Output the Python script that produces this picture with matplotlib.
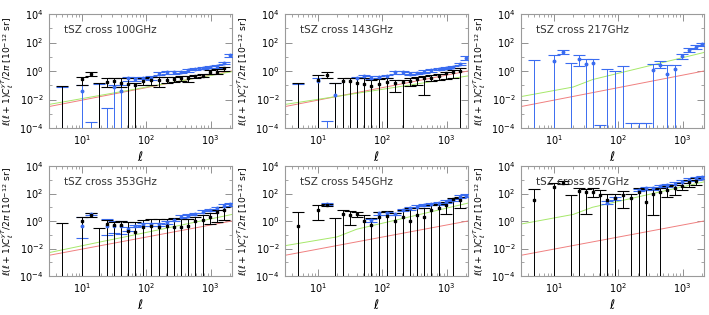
import numpy as np
import matplotlib
matplotlib.use('Agg')
import matplotlib.pyplot as plt
from matplotlib.ticker import FixedLocator, NullFormatter, LogLocator

N = None

# multipole bins
ell = [5, 10, 14, 18.5, 24.5, 31.5, 40, 53, 68, 89, 120, 158, 210, 270, 345, 450, 580, 750, 980, 1270, 1630, 2000]

# model curves
red_ell = [3.1, 2150]
red_val = [3.2e-3, 1.0]
green_ell = [3.1, 20, 40, 2150]
grn_100 = [4.5e-3, 0.02, 0.035, 0.9]
grn_143 = [4.5e-3, 0.0166, 0.027, 0.45]
grn_217 = [0.016, 0.075, 0.25, 20]
grn_353 = [5e-3, 0.031, 0.06, 3.0]
grn_545 = [0.016, 0.07, 0.25, 20]
grn_857 = [0.6, 3.0, 10, 700]

# black points (value, lower, upper); negative lower = bar to the bottom
blk_100 = [N, 0.26, 0.65, N, 0.18, 0.2, 0.15, 0.12, 0.1, 0.2, 0.23, 0.22, 0.22, 0.26, 0.34, 0.3, 0.42, 0.47, 0.9, 0.9, 1.5, N]
blk_100_lo = [-1, 0.1, 0.42, -1, 0.07, 0.075, 0.07, -1, -1, 0.1, 0.1, 0.07, 0.14, 0.16, 0.2, 0.18, 0.3, 0.35, 0.65, 0.65, 1.0, N]
blk_100_hi = [0.09, 0.4, 0.9, 0.14, 0.3, 0.3, 0.3, 0.3, 0.15, 0.34, 0.37, 0.35, 0.35, 0.38, 0.44, 0.42, 0.55, 0.6, 1.1, 1.3, 2.0, N]
blu_100 = [N, 0.04, N, N, N, 0.07, 0.04, 0.3, 0.28, 0.34, 0.34, 0.65, 0.8, 0.8, 0.9, 1.1, 1.45, 1.7, 1.9, 2.1, 3.7, 13]
blu_100_lo = [-1, -1, -1, -1, -1, -1, -1, 0.2, 0.2, 0.28, 0.25, 0.5, 0.65, 0.65, 0.75, 0.9, 1.2, 1.4, 1.6, 1.7, 3.0, 10]
blu_100_hi = [0.08, 0.1, 2.7e-4, 0.12, 2.6e-3, 0.1, 0.1, 0.4, 0.35, 0.4, 0.45, 0.8, 0.95, 0.95, 1.05, 1.3, 1.7, 2.0, 2.3, 2.6, 4.5, 16]

blk_143 = [N, 0.25, 0.52, N, 0.2, 0.2, 0.15, 0.13, 0.09, 0.13, 0.18, 0.15, 0.18, 0.2, 0.26, 0.3, 0.34, 0.42, 0.7, 0.9, 1.0, N]
blk_143_lo = [-1, -1, 0.34, -1, -1, -1, -1, -1, -1, -1, -1, 0.033, -1, 0.09, 0.1, 0.02, 0.2, 0.25, 0.27, 0.3, -1, N]
blk_143_hi = [0.15, 0.5, 0.9, 0.15, 0.34, 0.34, 0.34, 0.3, 0.25, 0.28, 0.3, 0.25, 0.25, 0.34, 0.4, 0.42, 0.55, 0.65, 0.9, 1.1, 1.5, N]
blu_143 = [N, 0.2, N, 0.02, N, N, 0.3, 0.42, 0.34, 0.38, 0.42, 0.8, 0.8, 0.65, 0.72, 0.9, 1.1, 1.4, 1.6, 1.9, 3.0, 8.6]
blu_143_lo = [-1, -1, -1, -1, N, N, -1, 0.32, 0.27, 0.3, 0.33, 0.65, 0.65, 0.52, 0.58, 0.75, 0.9, 1.15, 1.3, 1.6, 2.5, 6]
blu_143_hi = [0.13, 0.3, 3e-4, 0.15, N, N, 0.4, 0.52, 0.42, 0.46, 0.52, 0.95, 0.95, 0.8, 0.88, 1.1, 1.3, 1.7, 2.0, 2.3, 3.6, 11]

blk_217 = [N] * 22
blk_217_lo = [N] * 22
blk_217_hi = [N] * 22
blu_217 = [N, 5, 22, N, 7.4, 2.9, 3.5, N, N, N, N, N, N, N, 1.2, 2.6, 0.65, 1.3, 11.4, 30, 49, 75]
blu_217_lo = [-1, -1, 15, -1, 2.2, -1, -1, -1, -1, -1, -1, -1, -1, -1, -1, 1.7, -1, -1, 7.4, 23, 37, 55]
blu_217_hi = [6.3, 13.4, 30, 3.5, 12.7, 6.6, 6.6, 1.5e-4, 1.3, 1.0, 2.1, 2.4e-4, 2.4e-4, 2.4e-4, 2.9, 5, 2.6, 2.6, 16.6, 40, 64, 100]

blk_353 = [N, 1.05, 2.7, N, 0.57, 0.5, 0.5, 0.19, 0.15, 0.39, 0.46, 0.35, 0.43, 0.35, 0.39, 0.43, 1.0, 1.2, 2.1, 4.3, 6.3, N]
blk_353_lo = [-1, -1, 2.1, -1, -1, -1, -1, -1, -1, -1, -1, -1, -1, -1, -1, -1, -1, -1, 0.6, 0.9, 1.2, N]
blk_353_hi = [0.75, 2.1, 3.6, 0.33, 1.2, 0.9, 1.0, 0.8, 0.8, 1.1, 1.3, 1.3, 1.5, 1.6, 1.4, 1.5, 2.1, 2.8, 3.6, 6.5, 11, N]
blu_353 = [N, 0.4, 3.2, N, 0.4, 0.4, 0.4, 0.26, 0.43, 0.57, 0.57, 0.57, 0.8, 1.2, 2.1, 2.4, 3.2, 4.8, 6.3, 8.4, 13, 17]
blu_353_lo = [N, 0.06, 2.6, N, 0.1, 0.13, 0.12, 0.2, 0.34, 0.45, 0.45, 0.45, 0.65, 0.95, 1.7, 1.9, 2.6, 3.8, 5, 6.6, 10, 13]
blu_353_hi = [N, 2.0, 3.9, N, 1.3, 1.0, 1.0, 0.34, 0.54, 0.72, 0.72, 0.72, 1.0, 1.5, 2.6, 3, 4, 6, 8, 10.5, 16, 22]

blk_545 = [0.46, 6.3, 14.6, N, 3.0, 2.7, 3.0, 1.0, 0.5, 2.1, 2.4, 1.05, 2.1, 1.05, 2.7, 1.8, 6.3, 8.4, 14.6, 40, 34, N]
blk_545_lo = [-1, 1.2, 12, -1, -1, 0.5, 1.8, -1, -1, -1, -1, -1, -1, -1, -1, -1, -1, -1, 3, -1, 8.4, N]
blk_545_hi = [4.8, 14.6, 17, 1.7, 6.3, 5.6, 4.2, 2.7, 1.7, 4.2, 5, 3.6, 6.3, 8.4, 8.4, 9.5, 14.6, 16, 25, 50, 60, N]
blu_545 = [N, N, 17, N, N, N, N, N, 1.2, 3.6, 3.6, 3.2, 6.3, 8.4, 11, 14.6, 17, 19, 25, 34, 59, 70]
blu_545_lo = [N, N, 14, N, N, N, N, N, 0.9, 2.9, 2.9, 2.6, 5, 6.8, 9, 12, 14, 15.5, 20, 28, 48, 55]
blu_545_hi = [N, N, 20, N, N, N, N, N, 1.5, 4.5, 4.5, 4, 7.8, 10.5, 13.5, 18, 21, 23, 31, 42, 72, 90]

blk_857 = [34, 316, 610, N, 150, 120, 135, 78, 34, 44, 78, 44, 135, 25, 87, 120, 180, 240, 370, 650, 800, N]
blk_857_lo = [-1, -1, 460, -1, -1, 3, 60, -1, -1, -1, 8.4, -1, -1, -1, 2.7, -1, 60, 75, 180, 300, 400, N]
blk_857_hi = [214, 560, 800, 78, 240, 210, 240, 190, 100, 100, 140, 100, 240, 210, 210, 240, 330, 420, 560, 1000, 1300, N]
blu_857 = [N, N, N, N, N, N, N, N, 22, 45, N, N, 180, 240, 240, 330, 400, 530, 730, 1000, 1300, 1500]
blu_857_lo = [N, N, N, N, N, N, N, N, 17, 35, N, N, 140, 190, 190, 260, 320, 420, 580, 800, 1000, 1200]
blu_857_hi = [N, N, N, N, N, N, N, N, 28, 56, N, N, 230, 300, 300, 410, 500, 660, 920, 1250, 1600, 1900]

freqs = ['100GHz', '143GHz', '217GHz', '353GHz', '545GHz', '857GHz']
greens = [grn_100, grn_143, grn_217, grn_353, grn_545, grn_857]
blacks = [(blk_100, blk_100_lo, blk_100_hi), (blk_143, blk_143_lo, blk_143_hi),
          (blk_217, blk_217_lo, blk_217_hi), (blk_353, blk_353_lo, blk_353_hi),
          (blk_545, blk_545_lo, blk_545_hi), (blk_857, blk_857_lo, blk_857_hi)]
blues = [(blu_100, blu_100_lo, blu_100_hi), (blu_143, blu_143_lo, blu_143_hi),
         (blu_217, blu_217_lo, blu_217_hi), (blu_353, blu_353_lo, blu_353_hi),
         (blu_545, blu_545_lo, blu_545_hi), (blu_857, blu_857_lo, blu_857_hi)]

BLUE = '#3a6cf0'


def draw_points(ax, val, lo, hi, color, marker):
    x = np.array(ell, dtype=float)
    v = np.array(val, dtype=float)
    l = np.array(lo, dtype=float)
    h = np.array(hi, dtype=float)
    ok = ~np.isnan(h)
    ax.vlines(x[ok], l[ok], h[ok], color=color, lw=0.7, zorder=3)
    ax.plot(x, h, ls='none', marker='_', ms=8, mew=0.8, color=color, zorder=3)
    lcap = np.where(l > 0, l, np.nan)
    ax.plot(x, lcap, ls='none', marker='_', ms=8, mew=0.8, color=color, zorder=3)
    ax.plot(x, v, ls='none', marker=marker, ms=1.8, color=color, zorder=4)


plt.rcParams['font.family'] = ['DejaVu Sans']
plt.rcParams['mathtext.fontset'] = 'dejavusans'

fig = plt.figure(figsize=(7.09, 3.15), dpi=100)
lefts = [49, 285, 521]
rows = [(14, 128), (166, 276)]

for i, fr in enumerate(freqs):
    r, c = divmod(i, 3)
    top, bot = rows[r]
    ax = fig.add_axes([lefts[c] / 709, 1 - bot / 315, 183 / 709, (bot - top) / 315])
    ax.set_xscale('log')
    ax.set_yscale('log')

    ax.plot(red_ell, red_val, color='#f08080', lw=0.7, zorder=2)
    ax.plot(green_ell, greens[i], color='#a6e86a', lw=0.7, zorder=2)

    draw_points(ax, *blues[i], BLUE, 'o')
    draw_points(ax, *blacks[i], 'black', 's')

    ax.set_xlim(3.1, 2150)
    ax.set_ylim(1e-4, 1e4)
    ax.yaxis.set_major_locator(FixedLocator([1e-4, 1e-2, 1e0, 1e2, 1e4]))
    ax.yaxis.set_minor_locator(FixedLocator([1e-3, 1e-1, 1e1, 1e3]))
    ax.yaxis.set_minor_formatter(NullFormatter())
    ax.xaxis.set_major_locator(FixedLocator([10, 100, 1000]))
    ax.xaxis.set_minor_locator(LogLocator(base=10, subs=np.arange(2, 10), numticks=20))
    ax.xaxis.set_minor_formatter(NullFormatter())
    ax.tick_params(which='both', direction='in', top=True, right=True,
                   color='#808080', labelsize=7, pad=4)
    ax.tick_params(which='major', length=5, width=0.6)
    ax.tick_params(which='minor', length=2.5, width=0.5)
    for s in ax.spines.values():
        s.set_color('#9a9a9a')
        s.set_linewidth(0.8)

    ax.text(0.08, 0.83, 'tSZ cross ' + fr, transform=ax.transAxes, fontsize=7.5,
            color='#333333')
    ax.set_xlabel(r'$\ell$', fontsize=9, labelpad=2)
    ax.set_ylabel(r'$\ell(\ell+1)C_\ell^{yT}/2\pi\ [10^{-12}\ \mathrm{sr}]$', fontsize=6.6,
                  labelpad=2)

fig.savefig('out.png', dpi=100)
